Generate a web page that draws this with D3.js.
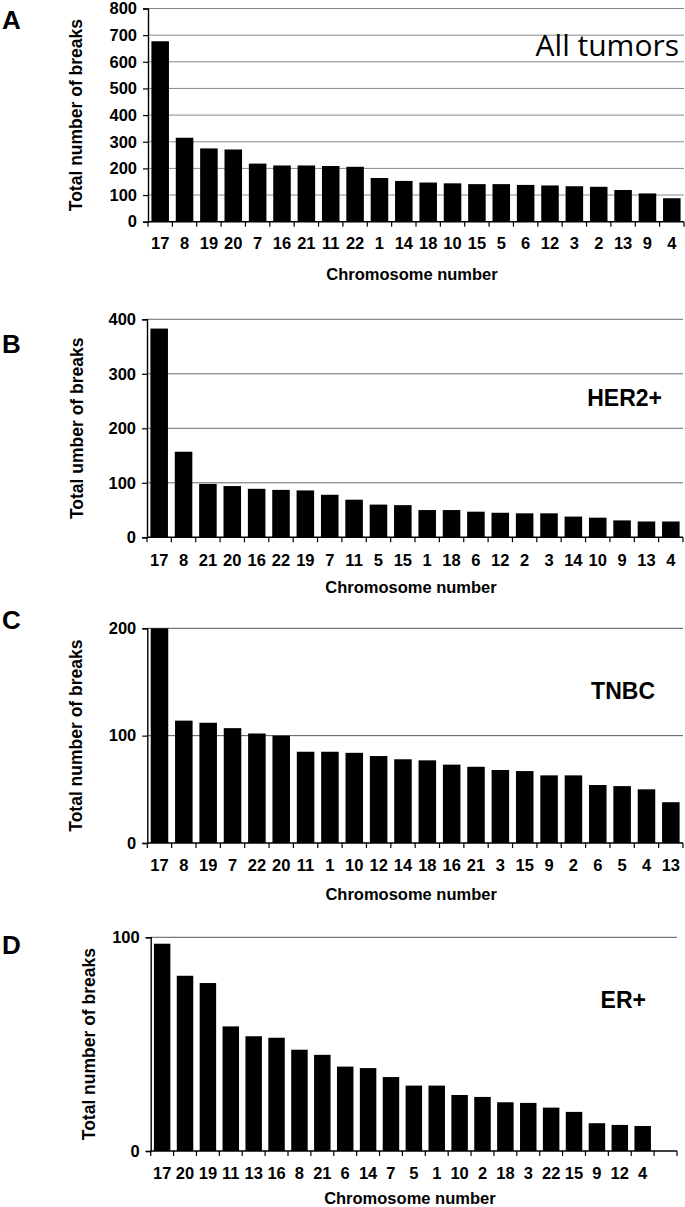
<!DOCTYPE html>
<meta charset="utf-8">
<script src="https://d3js.org/d3.v7.min.js"></script>
<style>
body { margin: 0; background: #fff; }
svg text { font-family: "Liberation Sans", Arial, sans-serif; font-weight: bold; fill: #000; }
.tick-y text, .tick-x text { font-size: 16.5px; }
.grid line { stroke: #777; stroke-width: 1px; }
.note-a { font-family: "Open Sans", sans-serif !important; font-weight: normal !important; font-size: 30px; }
</style>
<body></body>
<script>

// chromosome order and total breaks, one pair per panel
var catsA = ["17","8","19","20","7","16","21","11","22","1","14","18","10","15","5","6","12","3","2","13","9","4"];
var valsA = [677, 315, 275, 271, 218, 211, 211, 209, 206, 164, 153, 147, 144, 141, 141, 138, 136, 133, 131, 119, 106, 88];

var catsB = ["17","8","21","20","16","22","19","7","11","5","15","1","18","6","12","2","3","14","10","9","13","4"];
var valsB = [383, 157, 98, 94, 89, 87, 86, 78, 69, 60, 59, 50, 50, 47, 45, 44, 44, 38, 36, 31, 29, 29];

var catsC = ["17","8","19","7","22","20","11","1","10","12","14","18","16","21","3","15","9","2","6","5","4","13"];
var valsC = [200, 114, 112, 107, 102, 100, 85, 85, 84, 81, 78, 77, 73, 71, 68, 67, 63, 63, 54, 53, 50, 38];

var catsD = ["17","20","19","11","13","16","8","21","6","14","7","5","1","10","2","18","3","22","15","9","12","4"];
var valsD = [97, 82, 78.6, 58.3, 53.7, 53, 47.4, 45, 39.5, 38.8, 34.6, 30.6, 30.6, 26.2, 25.3, 22.8, 22.5, 20.3, 18.3, 13, 12.2, 11.7];

var ticksA = [0, 100, 200, 300, 400, 500, 600, 700, 800];
var ticksB = [0, 100, 200, 300, 400];
var ticksC = [0, 100, 200];
var ticksD = [0, 100];

var panels = [
  {letter: "A", cats: catsA, vals: valsA, ticks: ticksA, ytitle: "Total number of breaks", note: "All tumors", noteClass: "note-a",
   x0: 148, x1: 684, yTop: 8.5, yBot: 221.7, letterY: 29, labelY: 249, titleY: 280, ytX: 75, noteX: 679, noteY: 56, grid: "#8a8a8a", extra: 0},
  {letter: "B", cats: catsB, vals: valsB, ticks: ticksB, ytitle: "Total  umber of breaks", note: "HER2+",
   x0: 147, x1: 683, yTop: 319.3, yBot: 537.3, letterY: 353, labelY: 566, titleY: 593, ytX: 76, noteX: 662, noteY: 406, grid: "#6a6a6a", extra: 0},
  {letter: "C", cats: catsC, vals: valsC, ticks: ticksC, ytitle: "Total number of breaks", note: "TNBC",
   x0: 147.3, x1: 683, yTop: 628.3, yBot: 843, letterY: 629, labelY: 871, titleY: 900, ytX: 75, noteX: 655, noteY: 699, grid: "#555", extra: 0},
  {letter: "D", cats: catsD, vals: valsD, ticks: ticksD, ytitle: "Total number of breaks", note: "ER+",
   x0: 150.7, x1: 677, yTop: 937.3, yBot: 1151, letterY: 954, labelY: 1179, titleY: 1204, ytX: 88, noteX: 646, noteY: 1008, grid: "#555", extra: 1}
];

var svg = d3.select("body").append("svg")
    .attr("width", 685)
    .attr("height", 1207);

panels.forEach(function(p) {
  var g = svg.append("g");
  var domain = p.cats.slice();
  for (var i = 0; i < p.extra; i++) domain.push("_pad" + i);

  var x = d3.scaleBand()
    .domain(domain)
    .range([p.x0, p.x1])
    .paddingInner(0.28)
    .paddingOuter(0.14);

  var y = d3.scaleLinear()
    .domain([0, d3.max(p.ticks)])
    .range([p.yBot, p.yTop]);

  // gridlines
  g.append("g").attr("class", "grid")
    .selectAll("line")
    .data(p.ticks.filter(function(t) { return t > 0; }))
    .enter().append("line")
    .attr("x1", p.x0).attr("x2", p.x1)
    .attr("y1", function(d) { return y(d); })
    .attr("y2", function(d) { return y(d); })
    .style("stroke", p.grid);

  // bars
  g.selectAll(".bar")
    .data(p.vals)
    .enter().append("rect")
    .attr("class", "bar")
    .attr("x", function(d, i) { return x(p.cats[i]); })
    .attr("width", x.bandwidth())
    .attr("y", function(d) { return y(d); })
    .attr("height", function(d) { return y(0) - y(d); })
    .attr("fill", "#000");

  // y axis
  var yAxis = d3.axisLeft(y).tickValues(p.ticks).tickSize(5).tickPadding(6);
  var ya = g.append("g").attr("class", "tick-y")
    .attr("transform", "translate(" + p.x0 + ",0)")
    .call(yAxis);
  ya.select(".domain").attr("stroke", "#000").attr("stroke-width", 1.4);
  ya.selectAll(".tick line").attr("stroke", "#000").attr("stroke-width", 1.2);

  // x axis: labels centred on bars, ticks on slot boundaries
  var xAxis = d3.axisBottom(x).tickSize(0).tickPadding(0)
    .tickFormat(function(d) { return d.indexOf("_pad") === 0 ? "" : d; });
  var xa = g.append("g").attr("class", "tick-x")
    .attr("transform", "translate(0," + p.yBot + ")")
    .call(xAxis);
  xa.select(".domain").remove();
  xa.selectAll(".tick text").attr("dy", null).attr("y", p.labelY - p.yBot);

  g.append("line")
    .attr("x1", p.x0).attr("x2", p.x1)
    .attr("y1", p.yBot).attr("y2", p.yBot)
    .attr("stroke", "#000").attr("stroke-width", 1.4);

  var step = x.step();
  g.selectAll(".xtick")
    .data(d3.range(domain.length + 1))
    .enter().append("line")
    .attr("class", "xtick")
    .attr("x1", function(i) { return p.x0 + i * step; })
    .attr("x2", function(i) { return p.x0 + i * step; })
    .attr("y1", p.yBot).attr("y2", p.yBot + 5)
    .attr("stroke", "#000").attr("stroke-width", 1.2);

  // titles
  g.append("text")
    .attr("x", (p.x0 + p.x1) / 2 - 4)
    .attr("y", p.titleY)
    .attr("text-anchor", "middle")
    .style("font-size", "16.5px")
    .text("Chromosome number");

  g.append("text")
    .attr("transform", "translate(" + (p.ytX + 7) + "," + ((p.yTop + p.yBot) / 2) + ") rotate(-90)")
    .attr("text-anchor", "middle")
    .style("font-size", "17.5px")
    .text(p.ytitle);

  g.append("text")
    .attr("x", 2)
    .attr("y", p.letterY)
    .style("font-size", "26px")
    .text(p.letter);

  var note = g.append("text")
    .attr("x", p.noteX)
    .attr("y", p.noteY)
    .attr("text-anchor", "end")
    .text(p.note);
  if (p.noteClass) note.attr("class", p.noteClass);
  else note.style("font-size", "23px");
});

</script>
